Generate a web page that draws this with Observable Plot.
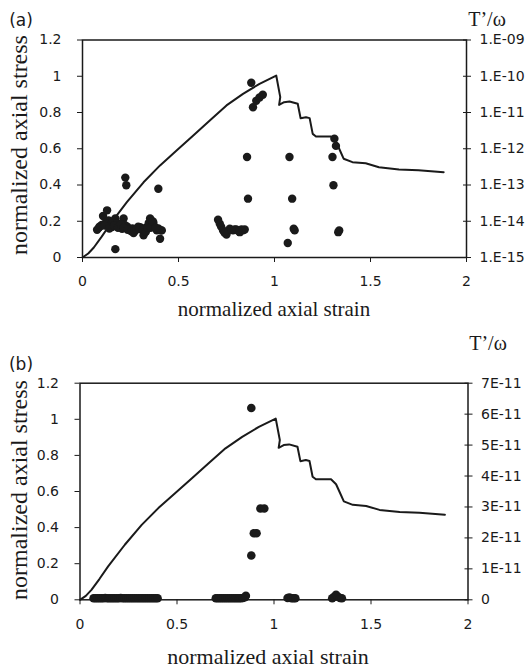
<!DOCTYPE html>
<html><head><meta charset="utf-8">
<script src="https://cdn.jsdelivr.net/npm/d3@7"></script>
<script src="https://cdn.jsdelivr.net/npm/@observablehq/plot@0.6"></script>
<style>
body{margin:0;background:#fff;}
#wrap{position:relative;width:528px;height:671px;overflow:hidden;background:#fff;}
.layer{position:absolute;left:0;}
.lbl{position:absolute;white-space:nowrap;color:#1a1a1a;line-height:1;}
.serif{font-family:"Liberation Serif","Times New Roman",serif;}
.sans{font-family:"DejaVu Sans",sans-serif;}
</style></head><body><div id="wrap"></div>
<script>
// stress-strain curve (same in both panels)
const strain = [0, 0.03, 0.059, 0.1, 0.145, 0.231, 0.318, 0.404, 0.49, 0.577, 0.663, 0.75, 0.836, 0.922, 1.009, 1.03, 1.024, 1.05, 1.078, 1.121, 1.136, 1.164, 1.183, 1.199, 1.216, 1.294, 1.32, 1.337, 1.36, 1.406, 1.475, 1.544, 1.648, 1.75, 1.881];
const stress = [0, 0.022, 0.055, 0.115, 0.185, 0.305, 0.415, 0.508, 0.59, 0.673, 0.756, 0.839, 0.903, 0.958, 1.004, 0.885, 0.842, 0.857, 0.861, 0.848, 0.768, 0.774, 0.769, 0.682, 0.668, 0.668, 0.64, 0.6, 0.545, 0.526, 0.52, 0.498, 0.486, 0.482, 0.471];

// panel (a) T'/omega points (log scale)
const aStrain = [0.076,0.09,0.107,0.128,0.136,0.154,0.171,0.188,0.206,0.214,0.232,0.249,0.266,0.283,0.3,0.318,0.335,0.352,0.369,0.387,0.404,0.413,0.171,0.223,0.228,0.395,
  0.10,0.12,0.145,0.16,0.18,0.195,0.22,0.24,0.26,0.275,0.29,0.31,0.325,0.345,0.36,0.375,0.395,0.41,
  0.085,0.115,0.14,0.165,0.185,0.2,0.215,0.235,0.255,0.27,0.28,0.295,0.315,0.33,0.34,0.355,0.365,0.38,
  0.706,0.715,0.722,0.732,0.75,0.767,0.784,0.801,0.819,0.836,0.845,0.828,0.81,0.792,0.74,0.776,
  0.857,0.862,1.078,1.092,1.1,1.105,1.069,1.302,1.307,1.337,1.332,1.312,1.32,0.879,0.888,0.905,0.922,0.939];
const aT = [5.8e-15,7.2e-15,1.4e-14,2.0e-14,1.05e-14,6.9e-15,1.2e-14,7.6e-15,6.2e-15,1.2e-14,7.2e-15,5.6e-15,4.7e-15,6.2e-15,6.9e-15,4.1e-15,6.9e-15,1.2e-14,9.3e-15,5.6e-15,3.3e-15,5.6e-15,1.7e-15,1.6e-13,9.8e-14,7.9e-14,
  7.9e-15,8.9e-15,7.9e-15,1.0e-14,8.9e-15,7.1e-15,7.9e-15,6.3e-15,6.3e-15,5.6e-15,7.1e-15,6.3e-15,5.6e-15,8.9e-15,7.9e-15,7.1e-15,6.3e-15,5.6e-15,
  6.6e-15,7.6e-15,6.3e-15,7.6e-15,6.6e-15,8.3e-15,6.6e-15,5.8e-15,5.3e-15,5.3e-15,5.9e-15,6.1e-15,5.9e-15,5.1e-15,6.6e-15,6.6e-15,1.0e-14,6.6e-15,
  1.1e-14,8.5e-15,7.1e-15,5.6e-15,4.3e-15,6.2e-15,5.6e-15,5.9e-15,5.0e-15,5.6e-15,5.9e-15,5.9e-15,5.5e-15,5.9e-15,4.8e-15,5.8e-15,
  5.9e-13,4.2e-14,5.9e-13,4.2e-14,6.2e-15,5.6e-15,2.5e-15,5.9e-13,9.8e-14,5.6e-15,5.0e-15,1.9e-12,1.2e-12,6.6e-11,1.4e-11,2.1e-11,2.6e-11,3.1e-11];

// panel (b) T'/omega points (linear scale)
const bStrain = [0.07,0.08,0.09,0.10,0.11,0.12,0.13,0.14,0.15,0.16,0.17,0.18,0.19,0.20,0.21,0.22,0.23,0.24,0.25,0.26,0.27,0.28,0.29,0.30,0.31,0.32,0.33,0.34,0.35,0.36,0.37,0.38,0.39,0.40,
  0.70,0.71,0.72,0.73,0.74,0.75,0.76,0.77,0.78,0.79,0.80,0.81,0.82,0.83,0.84,0.85,0.855,
  1.07,1.08,1.09,1.10,1.11,1.30,1.31,1.32,1.33,1.34,1.35,
  0.883,0.896,0.91,0.93,0.95,0.883];
const bT = [5e-13,5e-13,5e-13,5e-13,5e-13,5e-13,6e-13,5e-13,5e-13,5e-13,5e-13,5e-13,5e-13,5e-13,6e-13,5e-13,5e-13,5e-13,5e-13,5e-13,5e-13,5e-13,5e-13,5e-13,5e-13,5e-13,5e-13,5e-13,5e-13,5e-13,5e-13,5e-13,5e-13,5e-13,
  5e-13,5e-13,5e-13,5e-13,5e-13,5e-13,5e-13,5e-13,5e-13,5e-13,5e-13,5e-13,5e-13,5e-13,6e-13,8e-13,1.3e-12,
  6e-13,7e-13,5e-13,5e-13,5e-13,5e-13,1.0e-12,1.6e-12,1.0e-12,6e-13,5e-13,
  1.43e-11,2.15e-11,2.15e-11,2.95e-11,2.95e-11,6.2e-11];

const xTicks = [0, 0.5, 1, 1.5, 2];
const xTickLabels = ["0", "0.5", "1", "1.5", "2"];
const yTicks = [0, 0.2, 0.4, 0.6, 0.8, 1, 1.2];
const yTickLabels = ["0", "0.2", "0.4", "0.6", "0.8", "1", "1.2"];
const aRightTicks = [1e-15, 1e-14, 1e-13, 1e-12, 1e-11, 1e-10, 1e-9];
const aRightLabels = ["1.E-15", "1.E-14", "1.E-13", "1.E-12", "1.E-11", "1.E-10", "1.E-09"];
const bRightTicks = [0, 1e-11, 2e-11, 3e-11, 4e-11, 5e-11, 6e-11, 7e-11];
const bRightLabels = ["0", "1E-11", "2E-11", "3E-11", "4E-11", "5E-11", "6E-11", "7E-11"];

const curve = strain.map((s, i) => ({strain: s, stress: stress[i]}));
const aPts = aStrain.map((s, i) => ({strain: s, t: aT[i]}));
const bPts = bStrain.map((s, i) => ({strain: s, t: bT[i]}));

const lookup = (ticks, labels) => { const m = new Map(ticks.map((t, i) => [t, labels[i]])); return d => m.get(d) ?? ""; };
const ink = "#1a1a1a";
const wrap = document.getElementById("wrap");

function panel(top, height, m, rightTicks, rightLabels, rightType, rightDomain, pts, r) {
  const common = {
    width: 528, height,
    marginLeft: m.left, marginRight: m.right, marginTop: m.top, marginBottom: m.bottom,
    style: {background: "transparent", fontFamily: "DejaVu Sans, sans-serif", fontSize: "14px", color: ink}
  };
  const A = Plot.plot({
    ...common,
    x: {domain: [0, 2]},
    y: {domain: [0, 1.2]},
    marks: [
      Plot.frame({stroke: ink, strokeWidth: 1.5}),
      Plot.axisX({ticks: xTicks, tickFormat: lookup(xTicks, xTickLabels), tickSize: 5, tickPadding: 14, label: null, fontSize: 14}),
      Plot.axisY({ticks: yTicks, tickFormat: lookup(yTicks, yTickLabels), tickSize: 5, tickPadding: 16, label: null, fontSize: 14}),
      Plot.line(curve, {x: "strain", y: "stress", stroke: ink, strokeWidth: 2, strokeLinejoin: "round"})
    ]
  });
  const B = Plot.plot({
    ...common,
    x: {domain: [0, 2], axis: null},
    y: {type: rightType, domain: rightDomain},
    marks: [
      Plot.axisY({anchor: "right", ticks: rightTicks, tickFormat: lookup(rightTicks, rightLabels), tickSize: 8, dx: -4, tickPadding: 9, label: null, fontSize: 14}),
      Plot.dot(pts, {x: "strain", y: "t", r, fill: ink, stroke: null})
    ]
  });
  for (const el of [A, B]) { el.classList.add("layer"); el.style.top = top + "px"; wrap.appendChild(el); }
}

panel(0, 330, {left: 82, right: 62, top: 39.5, bottom: 73}, aRightTicks, aRightLabels, "log", [1e-15, 1e-9], aPts, 4.2);
panel(330, 341, {left: 79.5, right: 60.5, top: 52.7, bottom: 71.7}, bRightTicks, bRightLabels, "linear", [0, 7e-11], bPts, 4.3);

function label(text, cls, cx, cy, size, rot) {
  const d = document.createElement("div");
  d.className = "lbl " + cls;
  d.textContent = text;
  d.style.left = cx + "px"; d.style.top = cy + "px"; d.style.fontSize = size + "px";
  d.style.transform = "translate(-50%,-50%)" + (rot ? " rotate(-90deg)" : "");
  wrap.appendChild(d);
}
label("(a)", "sans", 21, 20, 17, false);
label("T\u2019/\u03c9", "serif", 487, 19, 20, false);
label("normalized axial stress", "serif", 19, 145, 24, true);
label("normalized axial strain", "serif", 274, 309, 21, false);
label("(b)", "sans", 21, 364, 17, false);
label("T\u2019/\u03c9", "serif", 488, 343, 20, false);
label("normalized axial stress", "serif", 19, 490, 24, true);
label("normalized axial strain", "serif", 268, 657, 22, false);
</script></body></html>
